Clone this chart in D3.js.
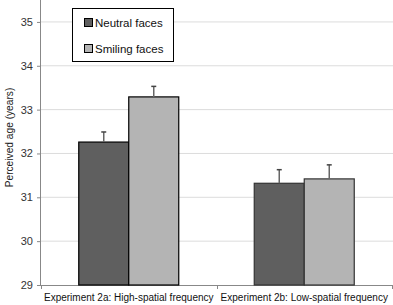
<!DOCTYPE html>
<html><head><meta charset="utf-8">
<script src="https://cdn.jsdelivr.net/npm/d3@7"></script>
<style>body{margin:0;background:#fff}svg{display:block}</style>
</head><body>
<svg id="c" width="393" height="305"></svg>
<script>
const categories = ["Experiment 2a: High-spatial frequency", "Experiment 2b: Low-spatial frequency"];
const seriesNames = ["Neutral faces", "Smiling faces"];
const neutral = [32.26, 31.32];
const smiling = [33.29, 31.42];
const neutralErr = [0.23, 0.31];
const smilingErr = [0.24, 0.32];
const yTicks = [29, 30, 31, 32, 33, 34, 35];
const colors = ["#5f5f5f", "#b4b4b4"];

const svg = d3.select("#c");
const font = "'Liberation Sans', Arial, sans-serif";
const m = {l: 41, r: 392, t: 0, b: 285};
const y = d3.scaleLinear().domain([29, 35.5]).range([m.b, m.t]);
const x0 = d3.scaleBand().domain(categories).range([m.l, m.r]);
const x1 = d3.scaleBand().domain(seriesNames).range([0, 100]);
const off = (x0.bandwidth() - 100) / 2;

// gridlines
svg.append("g").selectAll("line").data(yTicks.filter(t => t > 29)).join("line")
  .attr("x1", m.l).attr("x2", 393).attr("y1", d => y(d)).attr("y2", d => y(d))
  .attr("stroke", "#dcdcdc").attr("stroke-width", 1);

// y axis
const ya = svg.append("g").attr("transform", `translate(${m.l},0)`)
  .call(d3.axisLeft(y).tickValues(yTicks).tickSize(4).tickPadding(4).tickFormat(d3.format("d")));
ya.select(".domain").attr("stroke", "#888").attr("d", `M-0.5,${m.t}V${m.b}`);
ya.selectAll(".tick line").attr("stroke", "#888");
ya.selectAll("text").attr("font-family", font).attr("font-size", 11).attr("fill", "#333");

// x axis
const xa = svg.append("g").attr("transform", `translate(0,${m.b})`);
xa.append("line").attr("x1", m.l).attr("x2", 393).attr("y1", 0.5).attr("y2", 0.5).attr("stroke", "#888");
xa.selectAll("line.t").data([m.l, x0(categories[1]), m.r]).join("line").attr("class","t")
  .attr("x1", d => Math.round(d) + 0.5).attr("x2", d => Math.round(d) + 0.5).attr("y1", 0).attr("y2", 4).attr("stroke", "#888");
xa.selectAll("text").data(categories).join("text")
  .attr("x", d => x0(d) + x0.bandwidth() / 2).attr("y", 15.5).attr("text-anchor", "middle")
  .attr("font-family", font).attr("font-size", 10).attr("fill", "#111").text(d => d);

// bars
const rows = categories.map((c, i) => [
  {c, s: seriesNames[0], v: neutral[i], e: neutralErr[i], col: colors[0]},
  {c, s: seriesNames[1], v: smiling[i], e: smilingErr[i], col: colors[1]}
]).flat();
svg.append("g").selectAll("rect").data(rows).join("rect")
  .attr("x", d => x0(d.c) + off + x1(d.s)).attr("width", x1.bandwidth())
  .attr("y", d => y(d.v)).attr("height", d => y(29) - y(d.v))
  .attr("fill", d => d.col).attr("stroke", (d, i) => i < 2 ? "#000" : "#333").attr("stroke-width", 1.2);

// error bars
const eb = svg.append("g").selectAll("g").data(rows).join("g");
eb.append("line").attr("x1", d => x0(d.c) + off + x1(d.s) + x1.bandwidth() / 2).attr("x2", d => x0(d.c) + off + x1(d.s) + x1.bandwidth() / 2)
  .attr("y1", d => y(d.v)).attr("y2", d => y(d.v + d.e)).attr("stroke", "#666").attr("stroke-width", 1.5);
eb.append("line").attr("x1", d => x0(d.c) + off + x1(d.s) + x1.bandwidth() / 2 - 2.5).attr("x2", d => x0(d.c) + off + x1(d.s) + x1.bandwidth() / 2 + 2.5)
  .attr("y1", d => y(d.v + d.e)).attr("y2", d => y(d.v + d.e)).attr("stroke", "#444").attr("stroke-width", 1.5);

// y label
svg.append("text").attr("transform", `translate(12.5,137.5) rotate(-90)`).attr("text-anchor", "middle")
  .attr("font-family", font).attr("font-size", 10.2).attr("fill", "#222").text("Perceived age (years)");

// legend
const lg = svg.append("g");
lg.append("rect").attr("x", 72.5).attr("y", 8.5).attr("width", 101).attr("height", 53).attr("fill", "#fff").attr("stroke", "#000");
const li = lg.selectAll("g").data(seriesNames).join("g").attr("transform", (d, i) => `translate(84,${18 + i * 26})`);
li.append("rect").attr("x", 0.5).attr("y", 0.5).attr("width", 8).attr("height", 8).attr("fill", (d, i) => colors[i]).attr("stroke", "#000");
li.append("text").attr("x", 11).attr("y", 8.5).attr("font-family", font).attr("font-size", 11.5).attr("fill", "#111").text(d => d);
</script>
</body></html>
